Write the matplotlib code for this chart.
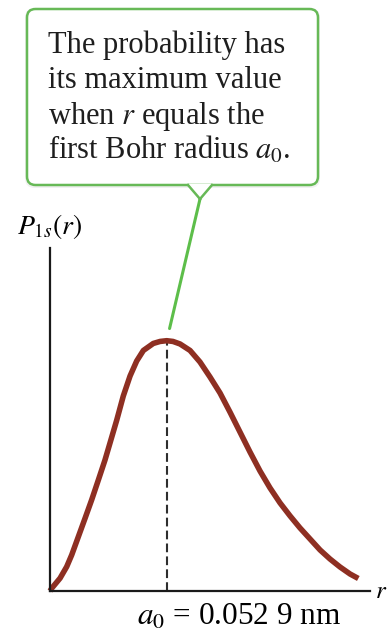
"""
Radial probability density of the hydrogen 1s state, with a callout at a0.
"""
import matplotlib.pyplot as plt
from matplotlib.patches import FancyBboxPatch, Polygon
from matplotlib.lines import Line2D

plt.rcParams['mathtext.fontset'] = 'stix'
plt.rcParams['font.family'] = ['Liberation Serif', 'DejaVu Serif']

# r in units of a0, P normalised to its peak value
r_vals = [0.0, 0.015, 0.086, 0.143, 0.186, 0.243, 0.300, 0.357, 0.414, 0.471,
          0.514, 0.572, 0.628, 0.686, 0.743, 0.800, 0.885, 0.943, 1.0, 1.054,
          1.114, 1.200, 1.285, 1.371, 1.457, 1.542, 1.628, 1.714, 1.800, 1.885,
          1.971, 2.057, 2.142, 2.228, 2.314, 2.399, 2.485, 2.571, 2.642]
p_vals = [0.0, 0.011, 0.051, 0.097, 0.144, 0.217, 0.290, 0.364, 0.443, 0.523,
          0.591, 0.683, 0.779, 0.859, 0.919, 0.961, 0.989, 0.997, 1.0, 0.997,
          0.987, 0.961, 0.915, 0.855, 0.791, 0.715, 0.635, 0.555, 0.479, 0.412,
          0.352, 0.300, 0.252, 0.208, 0.164, 0.128, 0.096, 0.068, 0.050]
peak_r, peak_p = 1.0, 1.0

callout_lines = ["The probability has",
                 "its maximum value",
                 "when $r$ equals the",
                 "first Bohr radius $a_0$."]
a0_label = "$a_0$ = 0.052 9 nm"

W, H = 390, 635
fig = plt.figure(figsize=(W / 100, H / 100), dpi=100)
fig.patch.set_facecolor('white')


def px(x, y):
    """pixel position measured from the top-left corner -> figure fraction"""
    return x / W, 1 - y / H


# ─── Axes ───────────────────────────────────────────────────────────
x0, y0 = 50, 591      # origin, pixels
x1, y1 = 370, 248     # end of x axis / top of y axis
ax = fig.add_axes([x0 / W, 1 - y0 / H, (x1 - x0) / W, (y0 - y1) / H])
ax.set_xlim(0, (x1 - x0) / 116.7)
ax.set_ylim(0, (y0 - y1) / 250.3)
for side in ('top', 'right'):
    ax.spines[side].set_visible(False)
for side in ('left', 'bottom'):
    ax.spines[side].set_linewidth(1.6)
    ax.spines[side].set_color('#1a1a1a')
ax.set_xticks([])
ax.set_yticks([])
ax.patch.set_alpha(0)

ax.plot([peak_r, peak_r], [0, peak_p], color='#2e2e2e', lw=1.5,
        dashes=(4.2, 2.0), zorder=1)
ax.plot(r_vals, p_vals, color='#8E2F22', lw=4, solid_capstyle='butt',
        solid_joinstyle='round', zorder=2, clip_on=False)

fig.text(*px(17, 234), r"$P_{1s}(r)$", fontsize=20, ha='left', va='baseline')
fig.text(*px(375, 592), r"$r$", fontsize=18, ha='left', va='center')
fig.text(*px(137, 625), a0_label, fontsize=22.5, ha='left', va='baseline')

# ─── Callout ────────────────────────────────────────────────────────
green = '#67B957'
bx0, by0, bx1, by1 = 27, 9, 318, 185
shadow = FancyBboxPatch(px(bx0 - 2, by1 + 3), (bx1 - bx0 + 4) / W,
                        (by1 - by0 + 4) / H,
                        boxstyle="round,pad=0,rounding_size=0.025",
                        transform=fig.transFigure, facecolor='#e8e8e8',
                        edgecolor='none', alpha=0.6, mutation_aspect=W / H)
fig.add_artist(shadow)
box = FancyBboxPatch(px(bx0, by1), (bx1 - bx0) / W, (by1 - by0) / H,
                     boxstyle="round,pad=0,rounding_size=0.022",
                     transform=fig.transFigure, facecolor='white',
                     edgecolor=green, lw=1.8, mutation_aspect=W / H)
fig.add_artist(box)

apex = (200, 199)
tail = Polygon([px(188, by1 - 1), px(*apex), px(212, by1 - 1)],
               closed=False, transform=fig.transFigure,
               facecolor='white', edgecolor='none')
fig.add_artist(tail)
for side in (188, 212):
    fig.add_artist(Line2D(*zip(px(side, by1), px(*apex)),
                          transform=fig.transFigure, color=green, lw=1.8))

ax.annotate("", xy=(peak_r, peak_p), xycoords='data',
            xytext=px(*apex), textcoords='figure fraction',
            arrowprops=dict(arrowstyle='-', color='#5DBE4A', lw=2.2,
                            shrinkA=0, shrinkB=9))

for i, line in enumerate(callout_lines):
    fig.text(*px(48, 53 + 35.3 * i), line, fontsize=22, ha='left',
             va='baseline', color='#1e1e1e')

fig.savefig('out.png', dpi=100)
